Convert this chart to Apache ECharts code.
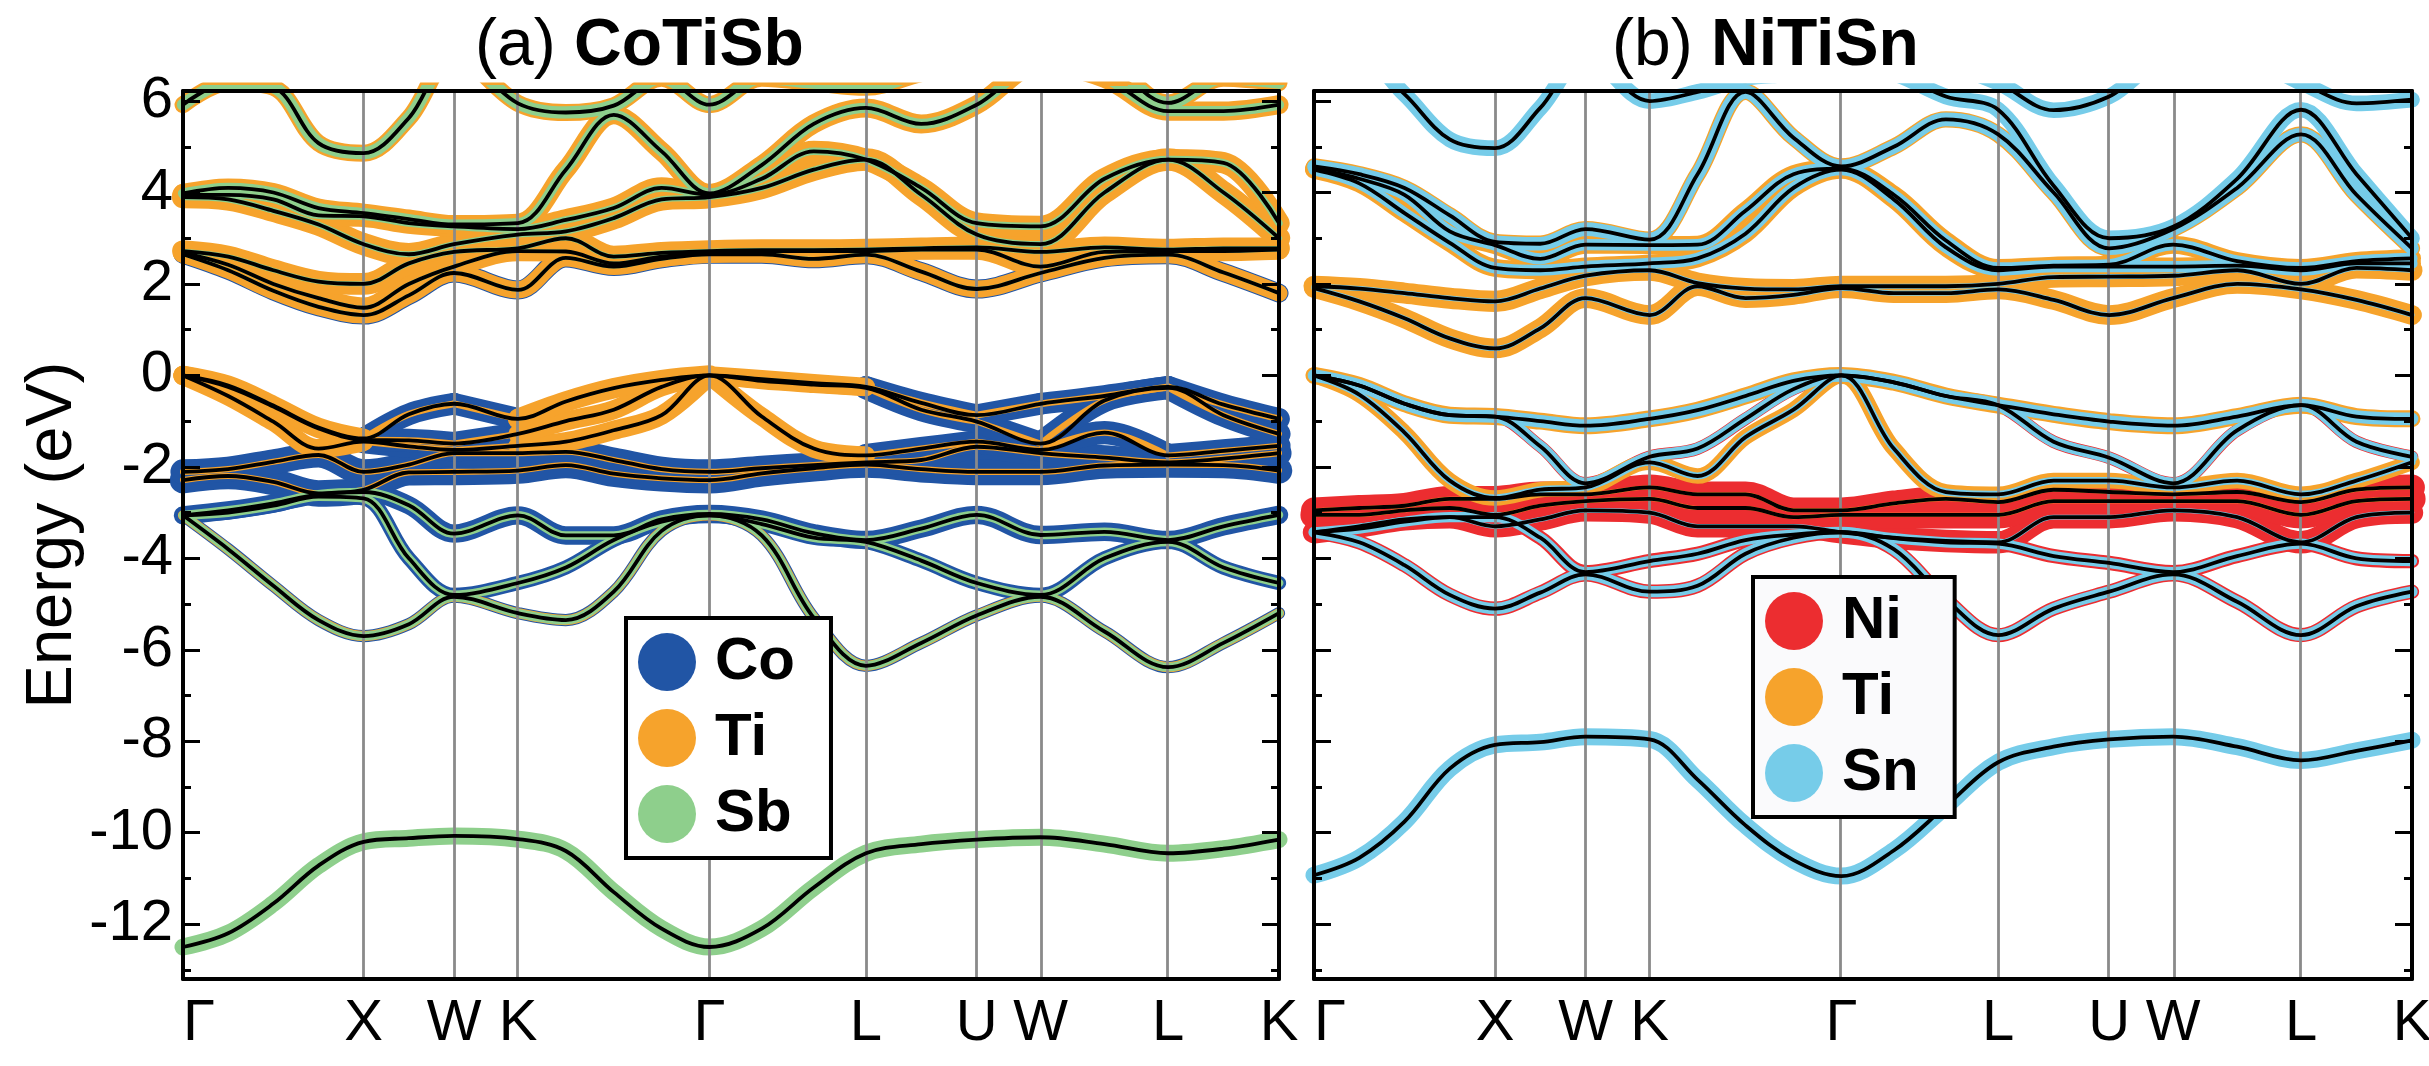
<!DOCTYPE html>
<html>
<head>
<meta charset="utf-8">
<title>CoTiSb / NiTiSn fat bands</title>
<script src="https://cdn.jsdelivr.net/npm/echarts@6.0.0/dist/echarts.min.js"></script>
<style>
  html, body { margin: 0; padding: 0; background: #fff; }
  #chart { width: 2429px; height: 1066px; }
</style>
</head>
<body>
<div id="chart"></div>
<script>
// ---- k-path (fcc): high symmetry points and the sampling grid ----
const kTicks = [0, 1, 1.5, 1.854, 2.914, 3.780, 4.393, 4.746, 5.453, 6.066];
const kLabels = ['Γ', 'X', 'W', 'K', 'Γ', 'L', 'U', 'W', 'L', 'K'];
const kGrid = [0, 0.25, 0.5, 0.75, 1, 1.25, 1.5, 1.854, 2.119, 2.384, 2.649, 2.914,
               3.203, 3.491, 3.780, 4.086, 4.393, 4.746, 5.100, 5.453, 5.759, 6.066];
const majorTicks = [-12, -10, -8, -6, -4, -2, 0, 2, 4, 6];
const minorTicks = [-13, -11, -9, -7, -5, -3, -1, 1, 3, 5];

// ---- (a) CoTiSb bands, energies (eV) on kGrid ----
const a_s  = [-12.5,-12.2,-11.55,-10.72,-10.2,-10.12,-10.07,-10.14,-10.4,-11.3,-12.1,-12.5,-12.1,-11.2,-10.45,-10.25,-10.15,-10.1,-10.25,-10.45,-10.35,-10.15];
const a_v1 = [-3.06,-3.8,-4.6,-5.35,-5.7,-5.44,-4.84,-5.2,-5.35,-4.73,-3.4,-3.06,-3.5,-5.3,-6.35,-5.85,-5.25,-4.84,-5.6,-6.38,-5.85,-5.2];
const a_v2 = [-3.06,-3.0,-2.85,-2.65,-2.69,-4.0,-4.8,-4.54,-4.2,-3.6,-3.2,-3.06,-3.25,-3.55,-3.64,-4.05,-4.54,-4.8,-4.0,-3.64,-4.2,-4.54];
const a_v3 = [-3.06,-2.95,-2.8,-2.6,-2.55,-2.84,-3.46,-3.06,-3.5,-3.5,-3.15,-3.03,-3.15,-3.45,-3.6,-3.35,-3.05,-3.49,-3.42,-3.6,-3.3,-3.05];
const a_v4 = [-2.29,-2.2,-2.33,-2.58,-2.5,-2.12,-2.11,-2.08,-1.96,-2.15,-2.25,-2.29,-2.14,-2.03,-1.95,-2.05,-2.11,-2.11,-1.97,-1.95,-1.96,-2.08];
const a_v5 = [-2.11,-2.05,-1.89,-1.74,-2.11,-1.95,-1.7,-1.7,-1.67,-1.85,-2.05,-2.11,-2.03,-1.96,-1.9,-1.85,-1.56,-1.7,-1.8,-1.9,-1.82,-1.7];
const a_v6 = [0,-0.45,-1.01,-1.6,-1.45,-1.55,-1.63,-1.54,-1.45,-1.2,-0.87,0,-0.9,-1.6,-1.75,-1.6,-1.45,-1.63,-1.25,-1.75,-1.65,-1.54];
const a_v7 = [0,-0.25,-0.68,-1.16,-1.41,-1.42,-1.49,-1.28,-1.0,-0.75,-0.25,0,-0.12,-0.2,-0.27,-0.75,-1.01,-1.49,-0.55,-0.27,-0.87,-1.28];
const a_v8 = [0,-0.22,-0.66,-1.14,-1.38,-0.85,-0.62,-0.95,-0.57,-0.28,-0.1,0,-0.08,-0.17,-0.25,-0.6,-0.87,-0.62,-0.45,-0.25,-0.64,-0.95];
const a_c1 = [2.65,2.3,1.85,1.5,1.32,1.75,2.24,1.87,2.57,2.38,2.55,2.65,2.65,2.55,2.64,2.27,1.89,2.24,2.57,2.64,2.25,1.8];
const a_c2 = [2.68,2.42,2.0,1.69,1.48,2.0,2.38,2.72,2.71,2.45,2.6,2.68,2.72,2.72,2.72,2.75,2.75,2.38,2.7,2.72,2.72,2.75];
const a_c3 = [2.72,2.6,2.3,2.05,2.0,2.45,2.7,2.78,3.0,2.6,2.68,2.72,2.74,2.74,2.75,2.78,2.8,2.7,2.8,2.75,2.78,2.78];
const a_c4 = [3.9,3.85,3.6,3.3,2.87,2.65,2.87,3.08,3.15,3.44,3.85,3.9,4.1,4.5,4.72,3.95,3.08,2.87,4.0,4.72,4.0,3.0];
const a_c5 = [3.95,3.95,3.85,3.5,3.48,3.33,3.26,3.2,3.4,3.66,4.1,3.95,4.3,4.9,4.72,4.1,3.33,3.26,4.3,4.72,4.65,3.33];
const a_c6 = [3.98,4.1,4.0,3.66,3.55,3.42,3.3,3.33,4.5,5.7,4.9,3.98,4.6,5.5,5.85,5.5,5.92,6.8,6.5,5.78,5.78,5.92];
const a_c7 = [5.92,6.4,6.3,5.08,4.86,5.63,7.0,5.95,5.75,5.9,6.5,5.92,6.5,6.4,6.3,6.6,6.8,7.2,6.9,5.96,6.5,6.4];
// projection weights [Co, Ti, Sb] per band; an array gives one value per path segment
const a_weights = [
  [0, 0, 0.5],
  [0.36, 0.3, 0.26], [0.42, 0, 0.26], [0.54, 0, 0.25],
  [0.78, 0.18, 0], [0.74, 0.18, 0],
  [[0.45, 0.68, 0.68, 0.45, 0.45, 0.68, 0.68, 0.68, 0.68], [0.56, 0.18, 0.18, 0.56, 0.54, 0.18, 0.18, 0.18, 0.18], 0],
  [[0.45, 0.68, 0.68, 0.45, 0.45, 0.68, 0.68, 0.68, 0.68], [0.56, 0.18, 0.18, 0.56, 0.5, 0.18, 0.18, 0.18, 0.18], 0.07],
  [[0.4, 0.64, 0.64, 0.4, 0.45, 0.64, 0.64, 0.64, 0.64], [0.58, 0.2, 0.2, 0.6, 0.54, 0.2, 0.2, 0.2, 0.2], 0.09],
  [0.56, 0.5, 0.11], [0.47, 0.6, 0.11], [0.22, 0.64, 0.14], [0.16, 0.66, 0.18],
  [0.16, 0.63, 0.22], [0.22, 0.56, 0.3], [0, 0.5, 0.36]
];

// ---- (b) NiTiSn bands ----
const b_s  = [-10.93,-10.55,-9.76,-8.6,-8.08,-8.02,-7.9,-7.96,-8.84,-9.84,-10.6,-10.95,-10.39,-9.42,-8.46,-8.12,-7.96,-7.9,-8.12,-8.42,-8.21,-7.98];
const b_v1 = [-3.43,-3.65,-4.15,-4.8,-5.1,-4.75,-4.35,-4.73,-4.6,-3.9,-3.55,-3.43,-3.8,-4.9,-5.68,-5.1,-4.73,-4.35,-4.95,-5.68,-5.05,-4.73];
const b_v2 = [-3.43,-3.35,-3.2,-3.1,-3.1,-3.55,-4.3,-4.06,-3.9,-3.6,-3.48,-3.43,-3.56,-3.65,-3.68,-3.95,-4.1,-4.3,-3.95,-3.68,-4.0,-4.06];
const b_v3 = [-3.43,-3.3,-3.15,-3.1,-3.3,-3.15,-2.95,-3.0,-3.3,-3.3,-3.3,-3.43,-3.55,-3.62,-3.65,-3.1,-3.1,-2.95,-3.1,-3.65,-3.1,-3.0];
const b_v4 = [-3.05,-3.05,-2.95,-2.9,-3.05,-2.85,-2.75,-2.7,-2.9,-2.9,-3.1,-3.05,-3.05,-3.05,-3.05,-2.75,-2.75,-2.75,-2.75,-3.05,-2.75,-2.7];
const b_v5 = [-2.95,-2.9,-2.85,-2.7,-2.7,-2.6,-2.6,-2.45,-2.6,-2.6,-2.95,-2.95,-2.8,-2.7,-2.77,-2.5,-2.55,-2.6,-2.55,-2.77,-2.5,-2.45];
const b_v6 = [0,-0.42,-1.25,-2.3,-2.68,-2.5,-2.45,-1.9,-2.2,-1.35,-0.75,0,-1.6,-2.55,-2.6,-2.3,-2.3,-2.45,-2.3,-2.6,-2.3,-1.9];
const b_v7 = [0,-0.22,-0.62,-0.87,-0.9,-1.55,-2.36,-1.78,-1.6,-0.95,-0.3,0,-0.15,-0.45,-0.65,-1.45,-1.8,-2.36,-1.2,-0.65,-1.45,-1.78];
const b_v8 = [0,-0.22,-0.62,-0.87,-0.9,-1.0,-1.1,-0.95,-0.76,-0.45,-0.12,0,-0.15,-0.45,-0.65,-0.85,-1.01,-1.1,-0.9,-0.65,-0.9,-0.95];
const b_c1 = [1.91,1.62,1.25,0.81,0.59,1.03,1.69,1.32,1.95,1.69,1.76,1.91,1.8,1.8,1.88,1.65,1.32,1.69,2.0,1.88,1.65,1.32];
const b_c2 = [1.95,1.9,1.8,1.69,1.62,1.9,2.18,2.3,2.02,1.9,1.88,1.95,1.95,1.95,2.0,2.15,2.16,2.18,2.3,2.0,2.35,2.3];
const b_c3 = [4.5,4.2,3.55,2.9,2.35,2.3,2.38,2.45,2.56,3.1,4.1,4.5,3.85,2.8,2.3,2.38,2.38,2.38,2.4,2.3,2.45,2.45];
const b_c4 = [4.52,4.3,3.95,3.15,2.85,2.55,2.86,2.85,2.86,3.6,4.4,4.52,3.95,2.95,2.35,2.4,2.42,2.86,2.5,2.35,2.5,2.56];
const b_c5 = [4.57,4.4,4.1,3.5,2.92,2.88,3.2,2.97,4.4,6.2,5.2,4.57,5.0,5.6,5.27,4.0,2.78,3.2,4.1,5.27,3.95,2.78];
const b_c6 = [6.8,7.0,6.15,5.16,4.97,5.85,7.0,6.0,6.2,6.5,6.6,6.8,6.6,6.1,5.81,4.15,3.0,3.25,4.3,5.81,4.4,3.0];
const b_c7 = [7.2,7.3,7.3,7.3,7.3,7.3,7.3,7.0,7.0,7.0,7.0,7.2,7.0,6.8,6.4,5.8,6.1,7.0,7.0,6.4,5.95,6.03];
// projection weights [Ni, Ti, Sn] per band
const b_weights = [
  [0, 0, 0.5],
  [0.42, 0, 0.33], [0.42, 0, 0.3], [0.66, 0, 0.14],
  [0.8, 0.12, 0], [0.76, 0.12, 0],
  [0.37, 0.46, 0.21], [0.37, 0.29, 0.33], [0, 0.5, 0.37],
  [0, 0.58, 0.15], [0, 0.62, 0.15], [0, 0.53, 0.33], [0, 0.53, 0.33],
  [0, 0.48, 0.4], [0, 0.37, 0.46], [0, 0.33, 0.46]
];

const aBands = [a_s, a_v1, a_v2, a_v3, a_v4, a_v5, a_v6, a_v7, a_v8, a_c1, a_c2, a_c3, a_c4, a_c5, a_c6, a_c7];
const bBands = [b_s, b_v1, b_v2, b_v3, b_v4, b_v5, b_v6, b_v7, b_v8, b_c1, b_c2, b_c3, b_c4, b_c5, b_c6, b_c7];

const FONT = '"Liberation Sans", Arial, Helvetica, sans-serif';
const WEIGHT_PX = 34;
const kEnd = kTicks[kTicks.length - 1];

function colourLine(name, colour, width, data, el, idx) {
  return {
    type: 'line', name: name, xAxisIndex: idx * 2, yAxisIndex: idx * 4,
    data: data, smooth: 0.35, symbol: 'none', silent: true, z: 2 + el,
    itemStyle: { color: colour },
    lineStyle: { color: colour, width: width * WEIGHT_PX, cap: 'round', join: 'round' }
  };
}

function panelSeries(bands, weights, names, colors, idx) {
  const out = [];
  for (let el = 0; el < 3; el++) {
    bands.forEach((e, b) => {
      const w = weights[b][el];
      const pts = kGrid.map((k, i) => [k, e[i]]);
      if (Array.isArray(w)) {
        // one piece per high-symmetry segment
        w.forEach((ws, s) => {
          if (ws <= 0) return;
          const piece = pts.filter(p => p[0] >= kTicks[s] - 1e-9 && p[0] <= kTicks[s + 1] + 1e-9);
          out.push(colourLine(names[el], colors[el], ws, piece, el, idx));
        });
      } else if (w > 0) {
        out.push(colourLine(names[el], colors[el], w, pts, el, idx));
      }
    });
  }
  // high symmetry lines
  out.push({
    type: 'line', xAxisIndex: idx * 2, yAxisIndex: idx * 4, data: [], z: 5, silent: true,
    markLine: {
      silent: true, symbol: ['none', 'none'], label: { show: false },
      lineStyle: { color: '#8a8a8a', width: 2.8, type: 'solid' },
      data: kTicks.slice(1, -1).map(k => ({ xAxis: k }))
    }
  });
  bands.forEach(e => {
    out.push({
      type: 'line', xAxisIndex: idx * 2, yAxisIndex: idx * 4,
      data: kGrid.map((k, i) => [k, e[i]]),
      smooth: 0.35, symbol: 'none', silent: true, z: 6,
      lineStyle: { color: '#000', width: 3.8, cap: 'round', join: 'round' }
    });
  });
  return out;
}

function xAxes(idx) {
  const base = { gridIndex: idx, type: 'value', min: 0, max: kEnd, splitLine: { show: false }, z: 10 };
  return [
    Object.assign({}, base, {
      position: 'bottom',
      axisLine: { show: true, onZero: false, lineStyle: { color: '#000', width: 4 } },
      axisTick: { show: false },
      axisLabel: {
        customValues: kTicks, formatter: v => kLabels[kTicks.indexOf(v)],
        fontSize: 58, fontFamily: FONT, color: '#000', margin: 16, alignMinLabel: 'left'
      }
    }),
    Object.assign({}, base, {
      position: 'top',
      axisLine: { show: true, onZero: false, lineStyle: { color: '#000', width: 4 } },
      axisTick: { show: false }, axisLabel: { show: false }
    })
  ];
}

function yAxes(idx, withLabels) {
  const base = { gridIndex: idx, type: 'value', min: -13.2, max: 6.22, splitLine: { show: false }, z: 10 };
  const tick = (vals, len) => ({ show: true, inside: true, length: len, customValues: vals,
                                 lineStyle: { color: '#000', width: 3 } });
  const line = { show: true, onZero: false, lineStyle: { color: '#000', width: 4 } };
  const list = [
    Object.assign({}, base, {
      position: 'left', axisLine: line, axisTick: tick(majorTicks, 17),
      axisLabel: { show: withLabels, customValues: majorTicks, fontSize: 58, fontFamily: FONT, color: '#000', margin: 10 }
    }),
    Object.assign({}, base, { position: 'left', axisLine: { show: false, onZero: false }, axisTick: tick(minorTicks, 8), axisLabel: { show: false } }),
    Object.assign({}, base, { position: 'right', axisLine: line, axisTick: tick(majorTicks, 17), axisLabel: { show: false } }),
    Object.assign({}, base, { position: 'right', axisLine: { show: false, onZero: false }, axisTick: tick(minorTicks, 8), axisLabel: { show: false } })
  ];
  if (withLabels) {
    Object.assign(list[0], {
      name: 'Energy (eV)', nameLocation: 'middle', nameGap: 50,
      nameTextStyle: { fontSize: 65, fontFamily: FONT, color: '#000' }
    });
  }
  return list;
}

function legendBox(names, left, top, bg) {
  return {
    data: names, orient: 'vertical', left: left, top: top,
    icon: 'circle', itemWidth: 58, itemHeight: 58, itemGap: 16,
    padding: [14, 36, 14, 12], borderColor: '#000', borderWidth: 4, backgroundColor: bg,
    selectedMode: false, z: 20,
    textStyle: { fontSize: 60, fontWeight: 'bold', fontFamily: FONT, color: '#000', padding: [0, 0, 0, 14] }
  };
}

function panelTitle(tag, name, left) {
  return {
    text: '{n|' + tag + '} {b|' + name + '}', left: left, top: 9,
    textStyle: {
      fontSize: 66, fontWeight: 'normal', fontFamily: FONT, color: '#000',
      rich: {
        n: { fontSize: 66, fontWeight: 'normal', fontFamily: FONT, color: '#000' },
        b: { fontSize: 66, fontWeight: 'bold', fontFamily: FONT, color: '#000' }
      }
    }
  };
}

const chart = echarts.init(document.getElementById('chart'), null, { renderer: 'canvas' });
chart.setOption({
  animation: false,
  backgroundColor: '#fff',
  title: [panelTitle('(a)', 'CoTiSb', 470), panelTitle('(b)', 'NiTiSn', 1607)],
  legend: [
    legendBox(['Co', 'Ti', 'Sb'], 626, 618, '#ffffff'),
    legendBox(['Ni', 'Ti', 'Sn'], 1753, 577, '#fafafc')
  ],
  grid: [
    { left: 183, top: 91, width: 1096, height: 888, outerBoundsMode: 'none' },
    { left: 1314, top: 91, width: 1098, height: 888, outerBoundsMode: 'none' }
  ],
  xAxis: xAxes(0).concat(xAxes(1)),
  yAxis: yAxes(0, true).concat(yAxes(1, false)),
  series: panelSeries(aBands, a_weights, ['Co', 'Ti', 'Sb'], ['#2155a5', '#f6a32c', '#8ecf8c'], 0)
    .concat(panelSeries(bBands, b_weights, ['Ni', 'Ti', 'Sn'], ['#ec2d30', '#f6a32c', '#76cce9'], 1))
});
</script>
</body>
</html>
